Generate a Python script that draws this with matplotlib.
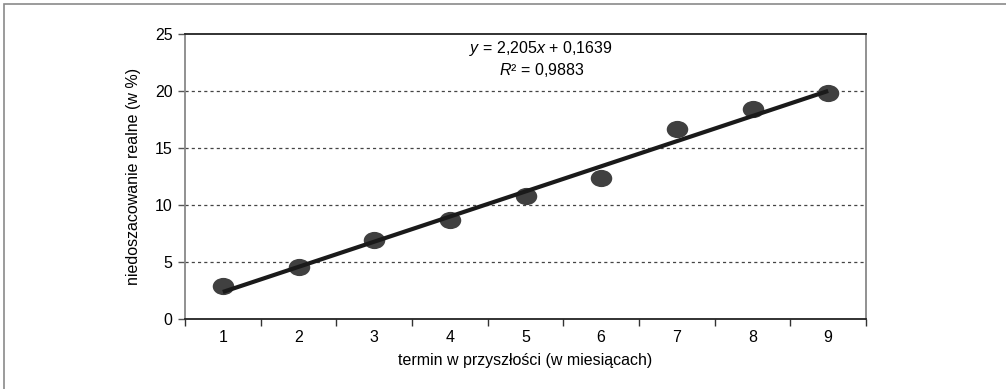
import numpy as np
import matplotlib
matplotlib.use('Agg')
import matplotlib.pyplot as plt
from matplotlib.path import Path
from matplotlib.markers import MarkerStyle
from matplotlib.transforms import Affine2D
from matplotlib.patches import Rectangle

plt.rcParams['font.family'] = ['Liberation Sans', 'DejaVu Sans']
plt.rcParams['mathtext.fontset'] = 'custom'
plt.rcParams['mathtext.it'] = 'Liberation Sans:italic'
plt.rcParams['mathtext.rm'] = 'Liberation Sans'

# dane
miesiace = [1, 2, 3, 4, 5, 6, 7, 8, 9]
niedoszacowanie = [2.9, 4.6, 6.9, 8.7, 10.8, 12.4, 16.7, 18.4, 19.8]
a, b = 2.205, 0.1639
r2 = 0.9883

fig = plt.figure(figsize=(10.06, 3.89), dpi=100)
ax = fig.add_axes([185/1006, 1 - 319/389, 681/1006, 285/389])

# ramka dookoła całości
fig.patches.append(Rectangle((4/1006, -0.05), 1.1, 1 - 4/389 + 0.05,
                             transform=fig.transFigure, fill=False,
                             edgecolor='#8a8a8a', linewidth=1.2))

# eliptyczny znacznik (szerszy niż wyższy)
elipsa = Path.unit_circle().transformed(Affine2D().scale(1.25, 1.0))
ax.scatter(miesiace, niedoszacowanie, marker=MarkerStyle(elipsa), s=240,
           color='#404040', zorder=3, linewidths=0)

xs = np.array([miesiace[0], miesiace[-1]])
ax.plot(xs, a * xs + b, color='#1a1a1a', linewidth=3, zorder=4,
        solid_capstyle='butt')

ax.set_xlim(0.5, 9.5)
ax.set_ylim(0, 25)
ax.set_yticks([0, 5, 10, 15, 20, 25])
ax.set_xticks(miesiace)
ax.set_xticks(np.arange(0.5, 10, 1), minor=True)
ax.tick_params(axis='x', which='major', length=0, pad=8, labelsize=11.5)
ax.tick_params(axis='x', which='minor', length=5, width=1, color='#333333')
ax.tick_params(axis='y', length=5, width=1, color='#555555', labelsize=11.5, pad=4)

for y in [5, 10, 15, 20]:
    ax.axhline(y, color='#444444', linewidth=0.9, linestyle=(0, (2.5, 2.5)), zorder=1)

ax.spines['top'].set_color('#222222')
ax.spines['bottom'].set_color('#222222')
ax.spines['left'].set_color('#888888')
ax.spines['right'].set_color('#888888')
for s in ax.spines.values():
    s.set_linewidth(1.3)

ax.set_xlabel('termin w przyszłości (w miesiącach)', fontsize=11.5, labelpad=6)
ax.set_ylabel('niedoszacowanie realne (w %)', fontsize=11.5, labelpad=10)

eq = '$y$ = ' + f'{a}'.replace('.', ',') + '$x$ + ' + f'{b}'.replace('.', ',')
eq2 = '$R$² = ' + f'{r2}'.replace('.', ',')
ax.text(0.523, 0.950, eq, transform=ax.transAxes, ha='center', va='center', fontsize=11.5)
ax.text(0.523, 0.875, eq2, transform=ax.transAxes, ha='center', va='center', fontsize=11.5)

fig.savefig('out.png', dpi=100)
